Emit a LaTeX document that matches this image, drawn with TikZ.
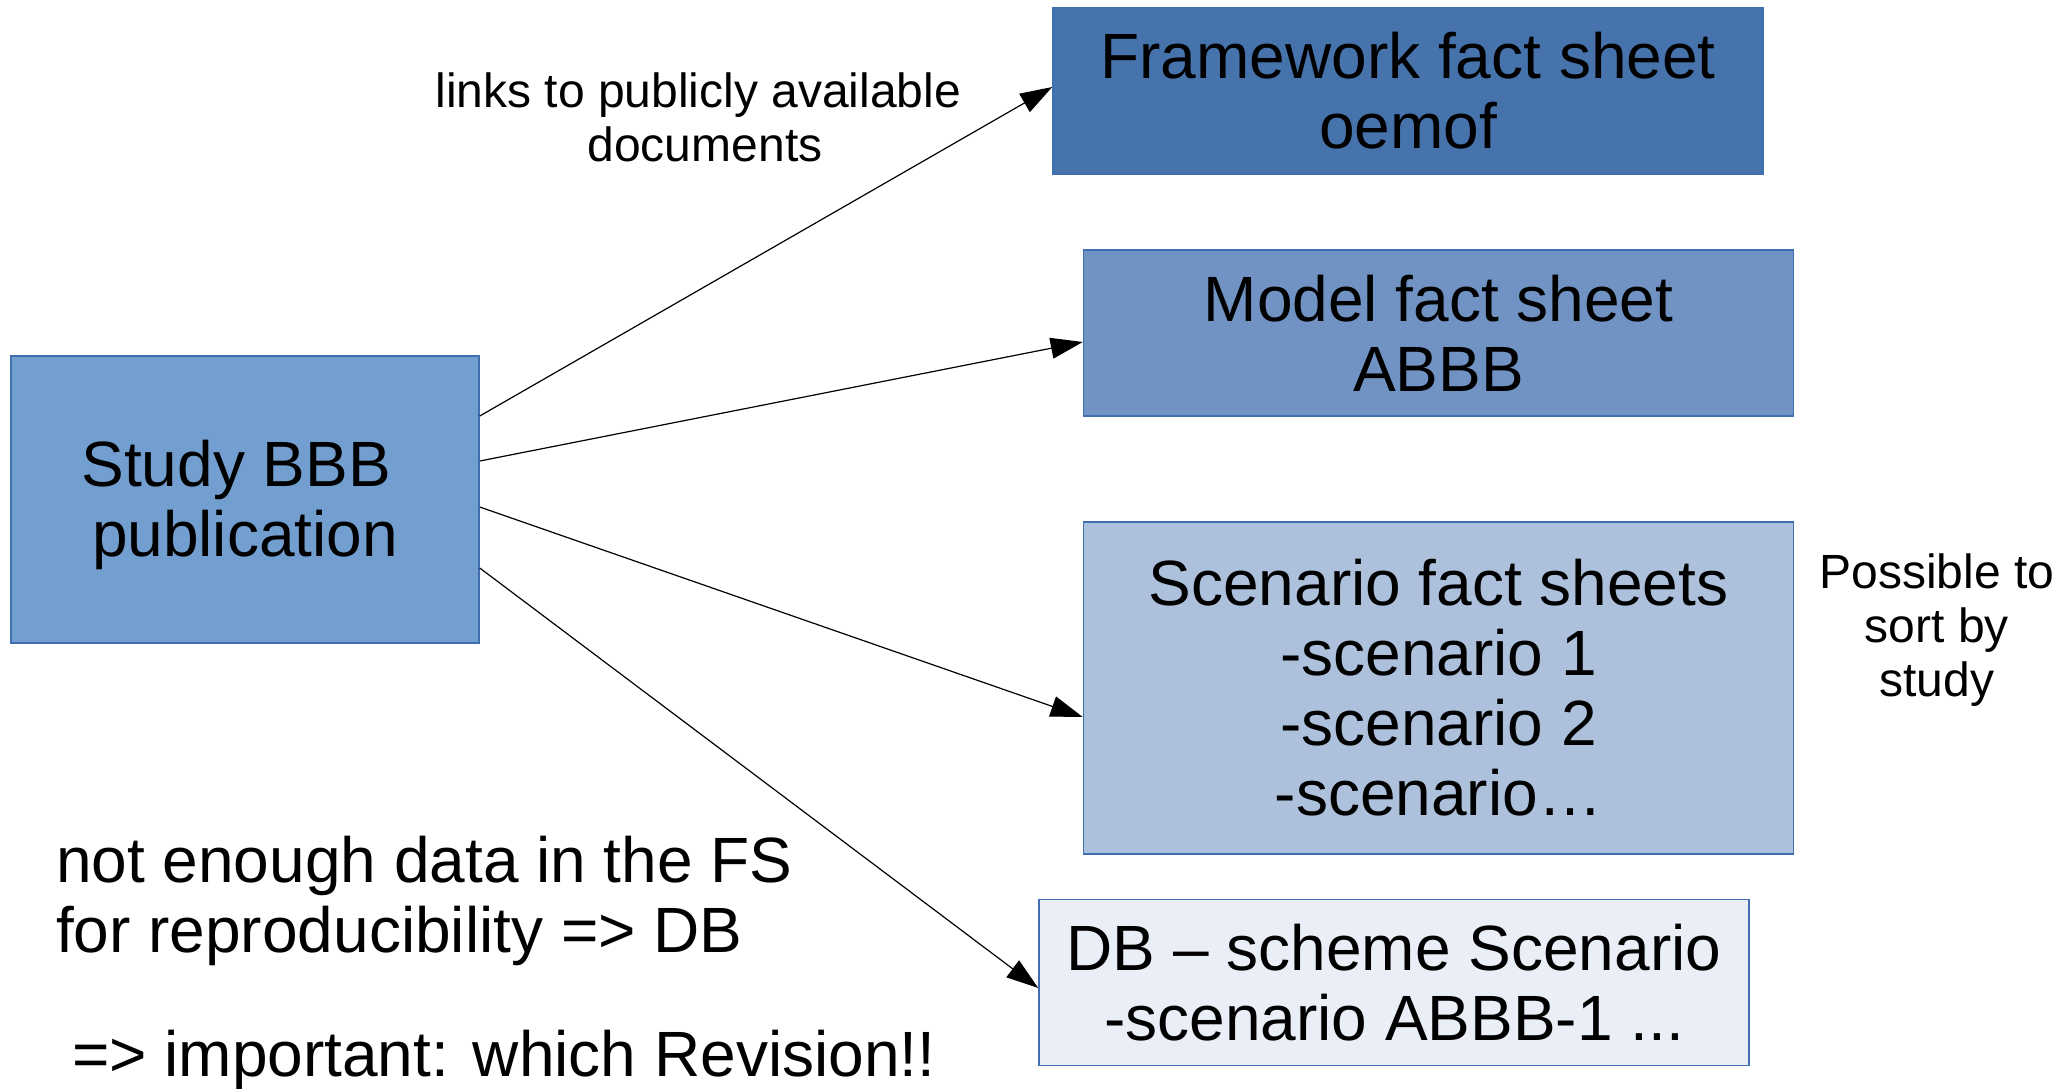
\documentclass[tikz,border=0pt]{standalone}
\usepackage{fontspec}
\setmainfont{Liberation Sans}
\usetikzlibrary{arrows.meta}
\definecolor{fwblue}{HTML}{4673AC}
\definecolor{modelblue}{HTML}{7093C3}
\definecolor{studyblue}{HTML}{729FCF}
\definecolor{scenblue}{HTML}{ADC1DC}
\definecolor{dbblue}{HTML}{EAEFF7}
\definecolor{boxedge}{HTML}{3F6FB0}
\tikzset{
  sheet/.style={draw=boxedge, line width=0.75pt, inner sep=0pt, minimum width=355pt, minimum height=83pt, align=center, font=\fontsize{32}{35}\selectfont},
  link/.style={-{Triangle[length=16pt,width=10.5pt]}, line width=0.6pt},
  note/.style={align=center, font=\fontsize{24}{27}\selectfont},
  remark/.style={align=left, font=\fontsize{32}{35}\selectfont}
}

\begin{document}
\begin{tikzpicture}[x=0.5pt,y=-0.5pt]
\useasboundingbox (0,0) rectangle (2062,1088);
%study
\node [sheet, fill=studyblue, minimum width=234pt, minimum height=143.5pt] (study) at (245,499.5) {};
\node [font=\fontsize{32}{35}\selectfont, align=center] (studytext) at (245,505) {Study BBB\hspace*{0.278em}\\publication};
%fact sheets
\node [sheet, fill=fwblue] (framework) at (1408,91) {Framework fact sheet\\oemof};
\node [sheet, fill=modelblue] (model) at (1438.5,333) {Model fact sheet\\ABBB};
\node [sheet, fill=scenblue, minimum height=166pt] (scenario) at (1438.5,688) {Scenario fact sheets\\-scenario 1\\-scenario 2\\-scenario…};
\node [sheet, fill=dbblue] (db) at (1394,982.5) {DB – scheme Scenario\\-scenario ABBB-1 ...};
%links
\draw [link] ([yshift=41.75pt]study.east) -- ([yshift=2pt]framework.west);
\draw [link] ([yshift=19.25pt]study.east) -- ([yshift=-4.5pt]model.west);
\draw [link] ([yshift=-3.75pt]study.east) -- ([yshift=-14.5pt]scenario.west);
\draw [link] ([yshift=-34.25pt]study.east) -- ([yshift=-2.75pt]db.west);
%
\node [note] (links) at (705,117) {links to publicly available\hspace*{0.278em}\\documents};
\node [note] (sort) at (1937,630) {Possible to\\sort by\\study};
%
\node [remark, anchor=west] (fsnote) at (49,901) {not enough data in the FS\\for reproducibility => DB};
\node [remark, anchor=west] (revision) at (65,1060) {=> important: which Revision!!};
\end{tikzpicture}
\end{document}
